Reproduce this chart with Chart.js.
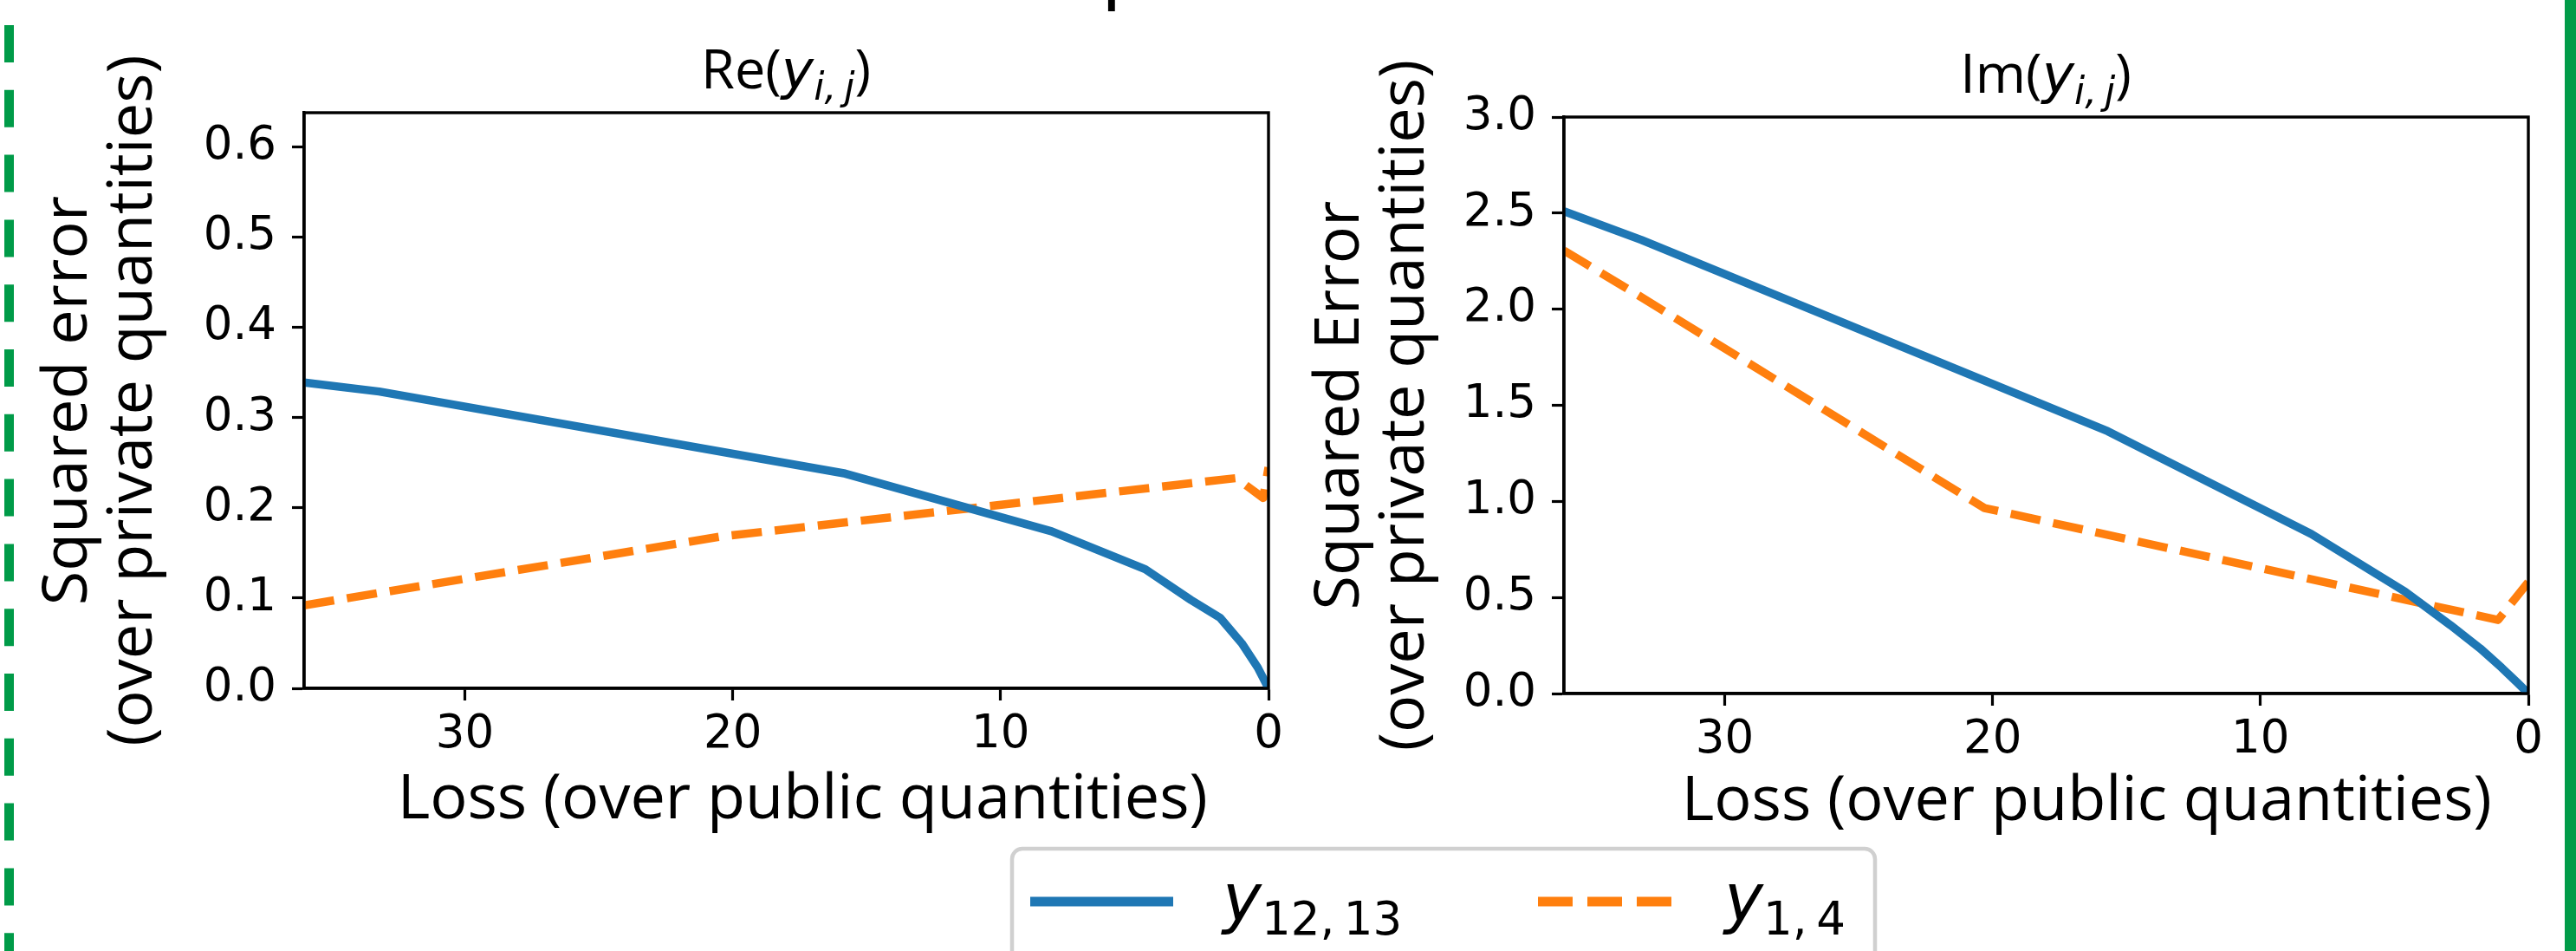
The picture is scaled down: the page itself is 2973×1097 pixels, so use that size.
<!DOCTYPE html>
<html>
<head>
<meta charset="utf-8">
<script src="https://cdn.jsdelivr.net/npm/chart.js@4.4.1/dist/chart.umd.min.js"></script>
<style>
html,body{margin:0;padding:0;background:#fff;width:2973px;height:1097px;overflow:hidden;}
#wrap{position:relative;width:2973px;height:1097px;background:#fff;}
#c1{position:absolute;left:0;top:0;}
#c2{position:absolute;left:1490px;top:0;}
#ov{position:absolute;left:0;top:0;pointer-events:none;}
</style>
</head>
<body>
<div id="wrap">
<canvas id="c1" width="1490" height="1000"></canvas>
<canvas id="c2" width="1460" height="1000"></canvas>
<svg id="ov" width="2973" height="1097" xmlns="http://www.w3.org/2000/svg">
  <line x1="10.5" y1="0" x2="10.5" y2="1097" stroke="#009b48" stroke-width="11" stroke-dasharray="43 31.8" stroke-dashoffset="45.8"/>
  <rect x="2960" y="0" width="13" height="1097" fill="#009b48"/>
  <text x="1271" y="-5" font-family="DejaVu Sans" font-size="87" fill="#000">p</text>
  <text x="907" y="102" text-anchor="middle" font-family="Open Sans" font-size="63" fill="#000">Re(<tspan font-family="DejaVu Sans" font-style="italic">y</tspan><tspan font-family="DejaVu Sans" font-size="44" dy="13" font-style="italic">i,&#8201;j</tspan><tspan dy="-13">)</tspan></text>
  <text x="2361" y="107" text-anchor="middle" font-family="Open Sans" font-size="63" fill="#000">Im(<tspan font-family="DejaVu Sans" font-style="italic">y</tspan><tspan font-family="DejaVu Sans" font-size="44" dy="13" font-style="italic">i,&#8201;j</tspan><tspan dy="-13">)</tspan></text>
  <rect x="1168" y="979" width="996" height="220" rx="12" ry="12" fill="#fff" fill-opacity="0.8" stroke="#d0d0d0" stroke-width="4.5"/>
  <line x1="1189" y1="1040" x2="1354" y2="1040" stroke="#1f77b4" stroke-width="11"/>
  <text x="1411" y="1062" font-family="DejaVu Sans" font-size="76" fill="#000"><tspan font-style="italic">y</tspan><tspan font-size="53" dy="16">12,&#8201;13</tspan></text>
  <line x1="1775" y1="1040" x2="1929" y2="1040" stroke="#ff7f0e" stroke-width="11" stroke-dasharray="40 17"/>
  <text x="1990" y="1062" font-family="DejaVu Sans" font-size="76" fill="#000"><tspan font-style="italic">y</tspan><tspan font-size="53" dy="16">1,&#8201;4</tspan></text>
</svg>
</div>
<script>
// ---- data ----
const lossTicks = [30, 20, 10, 0];
const reTicks = [0, 0.1, 0.2, 0.3, 0.4, 0.5, 0.6];
const imTicks = [0, 0.5, 1.0, 1.5, 2.0, 2.5, 3.0];

const seriesNames = ['y12,13', 'y1,4'];

// Re(y_ij) panel
const reBlueLoss   = [36, 33.2, 15.8, 8.1, 4.6, 2.9, 1.8, 1.0, 0.4, 0];
const reBlueErr    = [0.339, 0.329, 0.238, 0.174, 0.132, 0.098, 0.078, 0.050, 0.023, 0];
const reOrangeLoss = [36, 20.5, 1.2, 0.2, 0];
const reOrangeErr  = [0.092, 0.168, 0.233, 0.211, 0.245];

// Im(y_ij) panel
const imBlueLoss   = [36, 33.1, 15.7, 8.1, 4.6, 2.9, 1.8, 1.0, 0.4, 0];
const imBlueErr    = [2.51, 2.36, 1.365, 0.83, 0.53, 0.355, 0.235, 0.135, 0.055, 0];
const imOrangeLoss = [36, 33.2, 20.3, 1.13, 0];
const imOrangeErr  = [2.305, 2.07, 0.965, 0.383, 0.58];

const BLUE = '#1f77b4', ORANGE = '#ff7f0e';
const TICKFONT = 'DejaVu Sans';
const LABELFONT = 'Open Sans';

function pts(xs, ys) { return xs.map((x, i) => ({x: x, y: ys[i]})); }

const framePlugin = {
  id: 'frame',
  afterDatasetsDraw(chart) {
    const a = chart.chartArea, ctx = chart.ctx;
    ctx.save();
    ctx.strokeStyle = '#000';
    ctx.lineWidth = 3.4;
    ctx.strokeRect(a.left, a.top, a.right - a.left, a.bottom - a.top);
    ctx.restore();
  }
};

function makeChart(id, g) {
  const ctx = document.getElementById(id).getContext('2d');
  return new Chart(ctx, {
    type: 'line',
    data: {
      datasets: [
        {label: seriesNames[0], data: pts(g.bx, g.by), borderColor: BLUE, backgroundColor: BLUE,
         borderWidth: 9.5, pointRadius: 0, tension: 0, borderJoinStyle: 'round', borderCapStyle: 'butt', clip: 0},
        {label: seriesNames[1], data: pts(g.ox, g.oy), borderColor: ORANGE, backgroundColor: ORANGE,
         borderWidth: 9.5, pointRadius: 0, tension: 0, borderDash: [35, 15], borderJoinStyle: 'round', borderCapStyle: 'butt', clip: 0}
      ]
    },
    options: {
      responsive: false,
      animation: false,
      devicePixelRatio: 1,
      layout: {padding: {left: 0, top: g.top, right: g.padRight, bottom: 0}},
      plugins: {legend: {display: false}, tooltip: {enabled: false}, title: {display: false}},
      scales: {
        x: {
          type: 'linear', reverse: true, min: 0, max: 36,
          afterBuildTicks: s => { s.ticks = lossTicks.map(v => ({value: v})); },
          afterFit: s => { s.height = g.xHeight; },
          ticks: {font: {family: TICKFONT, size: 53}, color: '#000', padding: 8, maxRotation: 0, autoSkip: false,
                  callback: v => String(v)},
          grid: {drawOnChartArea: false, drawTicks: true, tickLength: 14, tickWidth: 3.2, tickColor: '#000'},
          border: {display: true, color: '#000', width: 3.4},
          title: {display: true, text: g.xTitle, color: '#000', font: {family: LABELFONT, size: 72, lineHeight: 1.2},
                  padding: {top: 0, bottom: g.xTitlePad}}
        },
        y: {
          type: 'linear', min: 0, max: g.yMax,
          afterBuildTicks: s => { s.ticks = g.yTicks.map(v => ({value: v})); },
          afterFit: s => { s.width = g.yWidth; },
          ticks: {font: {family: TICKFONT, size: 53}, color: '#000', padding: 18, autoSkip: false,
                  callback: v => Number(v).toFixed(1)},
          grid: {drawOnChartArea: false, drawTicks: true, tickLength: 14, tickWidth: 3.2, tickColor: '#000'},
          border: {display: true, color: '#000', width: 3.4},
          title: {display: true, text: g.yTitle, color: '#000', font: {family: LABELFONT, size: 72, lineHeight: 75 / 72},
                  padding: {top: g.yTitlePad, bottom: 0}}
        }
      }
    },
    plugins: [framePlugin]
  });
}

makeChart('c1', {
  bx: reBlueLoss, by: reBlueErr, ox: reOrangeLoss, oy: reOrangeErr,
  yMax: 0.638, yTicks: reTicks,
  top: 130, padRight: 26, xHeight: 206, yWidth: 351,
  xTitle: '  Loss (over public quantities)', xTitlePad: 33,
  yTitle: ['Squared error', '(over private quantities)'], yTitlePad: 42
});

makeChart('c2', {
  bx: imBlueLoss, by: imBlueErr, ox: imOrangeLoss, oy: imOrangeErr,
  yMax: 3.0, yTicks: imTicks,
  top: 135, padRight: 32, xHeight: 200, yWidth: 315,
  xTitle: '     Loss (over public quantities)', xTitlePad: 31,
  yTitle: ['Squared Error', '(over private quantities)'], yTitlePad: 20
});
</script>
</body>
</html>
